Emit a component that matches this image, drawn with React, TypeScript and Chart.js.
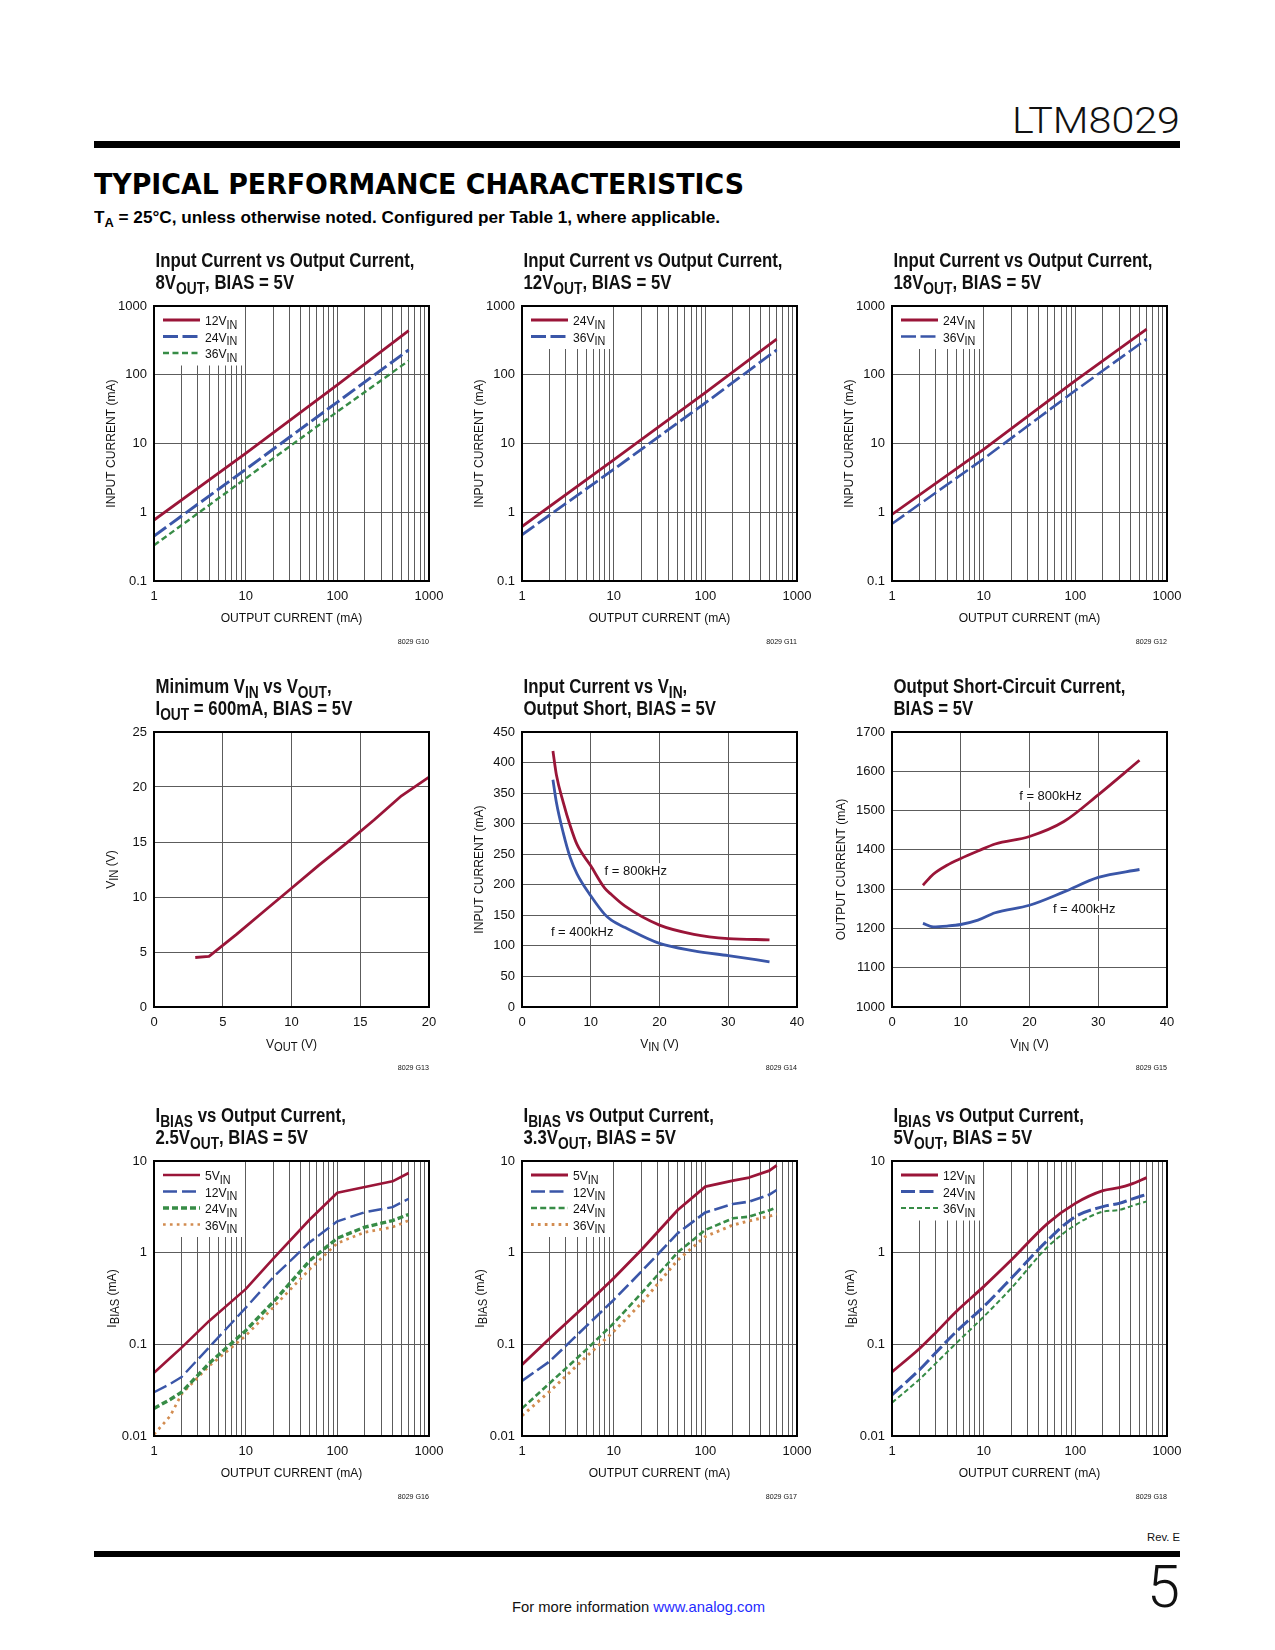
import React, { useEffect, useLayoutEffect, useRef } from "react";
import { Chart, registerables } from "chart.js";
Chart.register(...registerables);

// ---------- colours & fonts ----------
const RED = "#9a1538";
const BLUE = "#3a56a8";
const GREEN = "#378c46";
const ORANGE = "#d28c50";
const GRID = "#5c5c5c";
const FONT = "'Liberation Sans', Arial, sans-serif";

// ---------- data ----------
// G10: Input current vs output current, 8VOUT
const g10Iout = [1, 10, 100, 600];
const g10Vin12 = [0.77, 7.2, 71, 440];
const g10Vin24 = [0.45, 4.2, 40, 230];
const g10Vin36 = [0.33, 3.1, 29, 160];
// G11: 12VOUT
const g11Iout = [1, 10, 100, 600];
const g11Vin24 = [0.62, 5.8, 55, 330];
const g11Vin36 = [0.47, 4.2, 39, 230];
// G12: 18VOUT
const g12Iout = [1, 10, 100, 600];
const g12Vin24 = [0.93, 8.2, 82, 460];
const g12Vin36 = [0.68, 6.0, 59, 330];
// G13: minimum VIN vs VOUT
const g13Vout = [3, 4, 5, 6, 8, 10, 12, 14, 16, 18, 20];
const g13Vin = [4.5, 4.6, 5.6, 6.6, 8.7, 10.8, 12.9, 14.9, 17.0, 19.2, 20.9];
// G14: input current vs VIN, output short
const g14Vin = [4.5, 5, 6, 7, 8, 10, 12, 13, 15, 20, 25, 30, 36];
const g14I800 = [419, 380, 335, 297, 266, 231, 195, 184, 165, 134, 119, 112, 110];
const g14I400 = [372, 335, 285, 245, 218, 182, 152, 142, 130, 104, 92, 84, 74];
// G15: output short-circuit current
const g15Vin = [4.5, 6, 8, 10, 12.5, 15, 20, 25, 30, 36];
const g15I800 = [1310, 1338, 1361, 1378, 1397, 1415, 1434, 1472, 1540, 1628];
const g15I400 = [1213, 1204, 1206, 1210, 1221, 1240, 1259, 1293, 1330, 1350];
// G16: IBIAS, 2.5VOUT
const g16Iout = [1, 1.5, 2, 4, 10, 20, 50, 100, 200, 400, 600];
const g16Vin5 = [0.049, 0.071, 0.092, 0.18, 0.4, 0.86, 2.3, 4.5, 5.2, 6.0, 7.4];
const g16Vin12 = [0.03, 0.037, 0.044, 0.093, 0.25, 0.54, 1.3, 2.2, 2.77, 3.14, 3.87];
const g16Vin24 = [0.02, 0.025, 0.03, 0.062, 0.141, 0.29, 0.82, 1.44, 1.9, 2.24, 2.61];
const g16Vin36 = [0.0104, 0.0165, 0.0287, 0.058, 0.124, 0.253, 0.66, 1.27, 1.67, 1.9, 2.24];
// G17: IBIAS, 3.3VOUT
const g17Iout = [1, 2, 5, 10, 20, 50, 100, 200, 300, 500, 600];
const g17Vin5 = [0.06, 0.116, 0.27, 0.525, 1.07, 2.92, 5.25, 6.1, 6.6, 7.85, 8.97];
const g17Vin12 = [0.04, 0.065, 0.157, 0.305, 0.62, 1.63, 2.75, 3.4, 3.6, 4.3, 4.83];
const g17Vin24 = [0.02, 0.0376, 0.087, 0.17, 0.36, 1.01, 1.77, 2.37, 2.47, 2.9, 3.12];
const g17Vin36 = [0.0167, 0.0305, 0.073, 0.138, 0.28, 0.83, 1.5, 2.0, 2.22, 2.5, 2.64];
// G18: IBIAS, 5VOUT
const g18Iout = [1, 2, 3, 5, 10, 20, 50, 100, 200, 300, 400, 600];
const g18Vin12 = [0.05, 0.09, 0.134, 0.227, 0.426, 0.83, 2.09, 3.45, 4.75, 5.12, 5.56, 6.58];
const g18Vin24 = [0.028, 0.053, 0.081, 0.137, 0.258, 0.525, 1.37, 2.47, 3.18, 3.45, 3.8, 4.33];
const g18Vin36 = [0.0231, 0.0417, 0.062, 0.1026, 0.2, 0.41, 1.16, 2.0, 2.8, 2.92, 3.2, 3.63];

// ---------- tick labels ----------
const ioutTicks = [1, 10, 100, 1000];
const iinTicks = [0.1, 1, 10, 100, 1000];
const ibiasTicks = [0.01, 0.1, 1, 10];
const g13XTicks = [0, 5, 10, 15, 20];
const g13YTicks = [0, 5, 10, 15, 20, 25];
const vinTicks = [0, 10, 20, 30, 40];
const g14YTicks = [0, 50, 100, 150, 200, 250, 300, 350, 400, 450];
const g15YTicks = [1000, 1100, 1200, 1300, 1400, 1500, 1600, 1700];

// ---------- layout ----------
const PLOT = 275;
const COL_X = [154, 522, 892];
const ROW_Y = [306, 732, 1161];
const PAD_L = 64;
const PAD_T = 62;
const PAD_R = 26;
const PAD_B = 72;
const CW = PAD_L + PLOT + PAD_R;
const CH = PAD_T + PLOT + PAD_B;

type Seg = [string, boolean?];
interface Series {
  label: Seg[];
  x: number[];
  y: number[];
  color: string;
  dash: number[];
  width: number;
}
interface Note {
  text: string;
  x: number;
  y: number;
}
interface Spec {
  code: string;
  col: number;
  row: number;
  title1: Seg[];
  title2: Seg[];
  xLog: boolean;
  yLog: boolean;
  xTicks: number[];
  yTicks: number[];
  xTitle: Seg[];
  yTitle: Seg[];
  yTitleOff: number;
  series: Series[];
  legend: boolean;
  notes: Note[];
  smooth: boolean;
}

const VIN: Seg[] = [["V"], ["IN", true], [" (V)"]];
const IOUT_T: Seg[] = [["OUTPUT CURRENT (mA)"]];
const IIN_T: Seg[] = [["INPUT CURRENT (mA)"]];
const IBIAS_T: Seg[] = [["I"], ["BIAS", true], [" (mA)"]];
const lab = (v: string): Seg[] => [[v], ["IN", true]];

const specs: Spec[] = [
  {
    code: "8029 G10", col: 0, row: 0,
    title1: [["Input Current vs Output Current,"]],
    title2: [["8V"], ["OUT", true], [", BIAS = 5V"]],
    xLog: true, yLog: true, xTicks: ioutTicks, yTicks: iinTicks,
    xTitle: IOUT_T, yTitle: IIN_T, yTitleOff: 44,
    series: [
      { label: lab("12V"), x: g10Iout, y: g10Vin12, color: RED, dash: [], width: 2.8 },
      { label: lab("24V"), x: g10Iout, y: g10Vin24, color: BLUE, dash: [15, 4.5], width: 3 },
      { label: lab("36V"), x: g10Iout, y: g10Vin36, color: GREEN, dash: [6, 3.5], width: 2.4 },
    ],
    legend: true, notes: [], smooth: false,
  },
  {
    code: "8029 G11", col: 1, row: 0,
    title1: [["Input Current vs Output Current,"]],
    title2: [["12V"], ["OUT", true], [", BIAS = 5V"]],
    xLog: true, yLog: true, xTicks: ioutTicks, yTicks: iinTicks,
    xTitle: IOUT_T, yTitle: IIN_T, yTitleOff: 44,
    series: [
      { label: lab("24V"), x: g11Iout, y: g11Vin24, color: RED, dash: [], width: 2.8 },
      { label: lab("36V"), x: g11Iout, y: g11Vin36, color: BLUE, dash: [15, 4.5], width: 2.8 },
    ],
    legend: true, notes: [], smooth: false,
  },
  {
    code: "8029 G12", col: 2, row: 0,
    title1: [["Input Current vs Output Current,"]],
    title2: [["18V"], ["OUT", true], [", BIAS = 5V"]],
    xLog: true, yLog: true, xTicks: ioutTicks, yTicks: iinTicks,
    xTitle: IOUT_T, yTitle: IIN_T, yTitleOff: 44,
    series: [
      { label: lab("24V"), x: g12Iout, y: g12Vin24, color: RED, dash: [], width: 2.8 },
      { label: lab("36V"), x: g12Iout, y: g12Vin36, color: BLUE, dash: [15, 4.5], width: 2.6 },
    ],
    legend: true, notes: [], smooth: false,
  },
  {
    code: "8029 G13", col: 0, row: 1,
    title1: [["Minimum V"], ["IN", true], [" vs V"], ["OUT", true], [","]],
    title2: [["I"], ["OUT", true], [" = 600mA, BIAS = 5V"]],
    xLog: false, yLog: false, xTicks: g13XTicks, yTicks: g13YTicks,
    xTitle: [["V"], ["OUT", true], [" (V)"]], yTitle: VIN, yTitleOff: 44,
    series: [{ label: [], x: g13Vout, y: g13Vin, color: RED, dash: [], width: 2.8 }],
    legend: false, notes: [], smooth: false,
  },
  {
    code: "8029 G14", col: 1, row: 1,
    title1: [["Input Current vs V"], ["IN", true], [","]],
    title2: [["Output Short, BIAS = 5V"]],
    xLog: false, yLog: false, xTicks: vinTicks, yTicks: g14YTicks,
    xTitle: VIN, yTitle: IIN_T, yTitleOff: 44,
    series: [
      { label: [], x: g14Vin, y: g14I800, color: RED, dash: [], width: 2.8 },
      { label: [], x: g14Vin, y: g14I400, color: BLUE, dash: [], width: 2.8 },
    ],
    legend: false,
    notes: [
      { text: "f = 800kHz", x: 12.0, y: 224 },
      { text: "f = 400kHz", x: 4.2, y: 124 },
    ],
    smooth: true,
  },
  {
    code: "8029 G15", col: 2, row: 1,
    title1: [["Output Short-Circuit Current,"]],
    title2: [["BIAS = 5V"]],
    xLog: false, yLog: false, xTicks: vinTicks, yTicks: g15YTicks,
    xTitle: VIN, yTitle: [["OUTPUT CURRENT (mA)"]], yTitleOff: 52,
    series: [
      { label: [], x: g15Vin, y: g15I800, color: RED, dash: [], width: 2.8 },
      { label: [], x: g15Vin, y: g15I400, color: BLUE, dash: [], width: 2.8 },
    ],
    legend: false,
    notes: [
      { text: "f = 800kHz", x: 18.5, y: 1540 },
      { text: "f = 400kHz", x: 23.4, y: 1252 },
    ],
    smooth: true,
  },
  {
    code: "8029 G16", col: 0, row: 2,
    title1: [["I"], ["BIAS", true], [" vs Output Current,"]],
    title2: [["2.5V"], ["OUT", true], [", BIAS = 5V"]],
    xLog: true, yLog: true, xTicks: ioutTicks, yTicks: ibiasTicks,
    xTitle: IOUT_T, yTitle: IBIAS_T, yTitleOff: 43,
    series: [
      { label: lab("5V"), x: g16Iout, y: g16Vin5, color: RED, dash: [], width: 2.6 },
      { label: lab("12V"), x: g16Iout, y: g16Vin12, color: BLUE, dash: [14, 5], width: 2.4 },
      { label: lab("24V"), x: g16Iout, y: g16Vin24, color: GREEN, dash: [6, 3], width: 3.4 },
      { label: lab("36V"), x: g16Iout, y: g16Vin36, color: ORANGE, dash: [2.7, 4.2], width: 2.7 },
    ],
    legend: true, notes: [], smooth: false,
  },
  {
    code: "8029 G17", col: 1, row: 2,
    title1: [["I"], ["BIAS", true], [" vs Output Current,"]],
    title2: [["3.3V"], ["OUT", true], [", BIAS = 5V"]],
    xLog: true, yLog: true, xTicks: ioutTicks, yTicks: ibiasTicks,
    xTitle: IOUT_T, yTitle: IBIAS_T, yTitleOff: 43,
    series: [
      { label: lab("5V"), x: g17Iout, y: g17Vin5, color: RED, dash: [], width: 2.8 },
      { label: lab("12V"), x: g17Iout, y: g17Vin12, color: BLUE, dash: [14, 4.5], width: 2.6 },
      { label: lab("24V"), x: g17Iout, y: g17Vin24, color: GREEN, dash: [6, 3.2], width: 2.6 },
      { label: lab("36V"), x: g17Iout, y: g17Vin36, color: ORANGE, dash: [2.7, 4.2], width: 3 },
    ],
    legend: true, notes: [], smooth: false,
  },
  {
    code: "8029 G18", col: 2, row: 2,
    title1: [["I"], ["BIAS", true], [" vs Output Current,"]],
    title2: [["5V"], ["OUT", true], [", BIAS = 5V"]],
    xLog: true, yLog: true, xTicks: ioutTicks, yTicks: ibiasTicks,
    xTitle: IOUT_T, yTitle: IBIAS_T, yTitleOff: 43,
    series: [
      { label: lab("12V"), x: g18Iout, y: g18Vin12, color: RED, dash: [], width: 2.8 },
      { label: lab("24V"), x: g18Iout, y: g18Vin24, color: BLUE, dash: [14, 4.5], width: 3 },
      { label: lab("36V"), x: g18Iout, y: g18Vin36, color: GREEN, dash: [5, 3], width: 2 },
    ],
    legend: true, notes: [], smooth: true,
  },
];

// ---------- helpers ----------
function logGrid(decades: number[]): number[] {
  const out: number[] = [];
  for (let i = 0; i < decades.length - 1; i++) {
    for (let k = 1; k < 10; k++) out.push(+(decades[i] * k).toPrecision(4));
  }
  out.push(decades[decades.length - 1]);
  return out;
}

interface RichOpts {
  align: "left" | "center" | "right";
  size: number;
  subSize: number;
  subDy: number;
  bold?: boolean;
  sx?: number;
  rot?: number;
  color?: string;
}

function richWidth(ctx: CanvasRenderingContext2D, segs: Seg[], o: RichOpts) {
  const b = o.bold ? "bold " : "";
  let total = 0;
  for (const [t, sub] of segs) {
    ctx.font = `${b}${sub ? o.subSize : o.size}px ${FONT}`;
    total += ctx.measureText(t).width;
  }
  return total * (o.sx ?? 1);
}

function drawRich(ctx: CanvasRenderingContext2D, segs: Seg[], x: number, y: number, o: RichOpts) {
  ctx.save();
  ctx.translate(x, y);
  if (o.rot) ctx.rotate(o.rot);
  ctx.scale(o.sx ?? 1, 1);
  const b = o.bold ? "bold " : "";
  const mainF = `${b}${o.size}px ${FONT}`;
  const subF = `${b}${o.subSize}px ${FONT}`;
  let total = 0;
  for (const [t, sub] of segs) {
    ctx.font = sub ? subF : mainF;
    total += ctx.measureText(t).width;
  }
  let cx = o.align === "left" ? 0 : o.align === "center" ? -total / 2 : -total;
  ctx.fillStyle = o.color ?? "#111";
  ctx.textAlign = "left";
  ctx.textBaseline = "alphabetic";
  for (const [t, sub] of segs) {
    ctx.font = sub ? subF : mainF;
    ctx.fillText(t, cx, sub ? o.subDy : 0);
    cx += ctx.measureText(t).width;
  }
  ctx.restore();
}

const NOTE_OPTS: RichOpts = { align: "left", size: 13, subSize: 11, subDy: 3 };

function decorPlugin(spec: Spec) {
  return {
    id: "decor",
    beforeDatasetsDraw(chart: any) {
      const ctx: CanvasRenderingContext2D = chart.ctx;
      const a = chart.chartArea;
      // white boxes behind the curve labels (hide grid lines)
      const xs = chart.scales.x;
      const ys = chart.scales.y;
      ctx.save();
      ctx.fillStyle = "#fff";
      for (const n of spec.notes) {
        const px = xs.getPixelForValue(n.x);
        const py = ys.getPixelForValue(n.y);
        const w = richWidth(ctx, [[n.text]], NOTE_OPTS);
        ctx.fillRect(px - 2, py - 7, w + 4, 14);
      }
      ctx.restore();
      if (!spec.legend) return;
      const n = spec.series.length;
      ctx.save();
      ctx.fillStyle = "#fff";
      ctx.fillRect(a.left, a.top, 89, n * 16.5 + 10);
      spec.series.forEach((s, i) => {
        const y = a.top + 14 + i * 16.5;
        ctx.beginPath();
        ctx.strokeStyle = s.color;
        ctx.lineWidth = s.width;
        ctx.lineCap = "butt";
        ctx.setLineDash(s.dash);
        ctx.moveTo(a.left + 9, y);
        ctx.lineTo(a.left + 46, y);
        ctx.stroke();
        ctx.setLineDash([]);
        drawRich(ctx, s.label, a.left + 51, y + 5, {
          align: "left", size: 13.5, subSize: 12, subDy: 3.5, sx: 0.9,
        });
      });
      ctx.restore();
    },
    afterDraw(chart: any) {
      const ctx: CanvasRenderingContext2D = chart.ctx;
      const a = chart.chartArea;
      // frame
      ctx.save();
      ctx.strokeStyle = "#000";
      ctx.lineWidth = 2;
      ctx.setLineDash([]);
      ctx.strokeRect(a.left, a.top, a.right - a.left, a.bottom - a.top);
      ctx.restore();
      // titles
      const tOpts: RichOpts = { align: "left", size: 19.5, subSize: 16, subDy: 4.5, bold: true, sx: 0.86 };
      drawRich(ctx, spec.title1, a.left + 1.5, a.top - 39, tOpts);
      drawRich(ctx, spec.title2, a.left + 1.5, a.top - 17, tOpts);
      // axis titles
      const cxp = (a.left + a.right) / 2;
      const cyp = (a.top + a.bottom) / 2;
      drawRich(ctx, spec.xTitle, cxp, a.bottom + 40.5, {
        align: "center", size: 13, subSize: 12, subDy: 3.5, sx: 0.93,
      });
      drawRich(ctx, spec.yTitle, a.left - spec.yTitleOff + 4.5, cyp, {
        align: "center", size: 13, subSize: 12, subDy: 3.5, sx: 0.93, rot: -Math.PI / 2,
      });
      // notes
      const xs = chart.scales.x;
      const ys = chart.scales.y;
      for (const n of spec.notes) {
        drawRich(ctx, [[n.text]], xs.getPixelForValue(n.x), ys.getPixelForValue(n.y) + 4.7, NOTE_OPTS);
      }
      // figure code
      drawRich(ctx, [[spec.code]], a.right, a.bottom + 63, {
        align: "right", size: 7.5, subSize: 7, subDy: 0, sx: 0.95,
      });
    },
  };
}

function axisOpts(log: boolean, ticks: number[], horizontal: boolean, isX: boolean) {
  const grid = log && isX ? logGrid(ticks) : ticks;
  return {
    type: log ? "logarithmic" : "linear",
    position: horizontal ? "bottom" : "left",
    min: ticks[0],
    max: ticks[ticks.length - 1],
    afterBuildTicks: (s: any) => {
      s.ticks = grid.map((v) => ({ value: v }));
    },
    afterFit: (s: any) => {
      if (horizontal) {
        s.height = PAD_B - 2;
        s.paddingLeft = 0;
        s.paddingRight = 0;
      } else {
        s.width = PAD_L;
        s.paddingTop = 0;
        s.paddingBottom = 0;
      }
    },
    ticks: {
      autoSkip: false,
      maxRotation: 0,
      minRotation: 0,
      padding: horizontal ? 8 : 7,
      color: "#111",
      font: { family: FONT, size: 13 },
      callback: (v: number) => (ticks.includes(v) ? String(v) : ""),
    },
    grid: { color: GRID, lineWidth: 1, drawTicks: false },
    border: { display: false },
    title: { display: false },
  };
}

function buildConfig(spec: Spec): any {
  return {
    type: "line",
    data: {
      datasets: spec.series.map((s) => ({
        data: s.x.map((x, i) => ({ x, y: s.y[i] })),
        borderColor: s.color,
        borderWidth: s.width,
        borderDash: s.dash,
        borderCapStyle: "butt",
        borderJoinStyle: "round",
        pointRadius: 0,
        fill: false,
        tension: 0,
        cubicInterpolationMode: spec.smooth ? "monotone" : "default",
      })),
    },
    options: {
      animation: false,
      responsive: false,
      devicePixelRatio: 1,
      events: [],
      layout: { padding: { top: PAD_T, right: PAD_R, bottom: 2, left: 0 } },
      plugins: {
        legend: { display: false },
        tooltip: { enabled: false },
        title: { display: false },
      },
      scales: {
        x: axisOpts(spec.xLog, spec.xTicks, true, true),
        y: axisOpts(spec.yLog, spec.yTicks, false, false),
      },
    },
    plugins: [decorPlugin(spec)],
  };
}

function PerfChart({ spec }: { spec: Spec }) {
  const ref = useRef<HTMLCanvasElement>(null);
  useEffect(() => {
    const cv = ref.current;
    if (!cv) return;
    const chart = new Chart(cv, buildConfig(spec));
    return () => chart.destroy();
  }, [spec]);
  return (
    <canvas
      ref={ref}
      width={CW}
      height={CH}
      style={{
        position: "absolute",
        left: COL_X[spec.col] - PAD_L,
        top: ROW_Y[spec.row] - PAD_T,
        width: CW,
        height: CH,
      }}
    />
  );
}

// Fits a line of HTML text to a target width by horizontal scaling.
function Fit(props: {
  x?: number;
  right?: number;
  baseline: number;
  size: number;
  width: number;
  family: string;
  weight?: number | string;
  color?: string;
  children: React.ReactNode;
}) {
  const ref = useRef<HTMLDivElement>(null);
  useLayoutEffect(() => {
    const el = ref.current;
    if (!el) return;
    el.style.transform = "none";
    const w = el.getBoundingClientRect().width;
    if (w > 0) el.style.transform = `scaleX(${props.width / w})`;
  });
  const left = props.x !== undefined ? props.x : (props.right as number) - props.width;
  return (
    <div
      ref={ref}
      style={{
        position: "absolute",
        left,
        top: props.baseline - 0.845 * props.size,
        fontSize: props.size,
        lineHeight: `${props.size}px`,
        fontFamily: props.family,
        fontWeight: props.weight ?? "normal",
        color: props.color ?? "#111",
        whiteSpace: "nowrap",
        transformOrigin: "0 0",
      }}
    >
      {props.children}
    </div>
  );
}

const subStyle: React.CSSProperties = { fontSize: "0.75em", position: "relative", top: "0.3em", lineHeight: 0 };

export default function App() {
  return (
    <div style={{ position: "absolute", left: 0, top: 0, width: 1275, height: 1650, background: "#fff", overflow: "hidden" }}>
      <Fit right={1180} baseline={133.5} size={37} width={168} family="Roboto, 'Liberation Sans', sans-serif" weight={300}>
        LTM8029
      </Fit>
      <div style={{ position: "absolute", left: 94, top: 141, width: 1086, height: 6.5, background: "#000" }} />
      <Fit x={94} baseline={195} size={28} width={650} family="'DejaVu Sans', sans-serif" weight="bold" color="#000">
        TYPICAL PERFORMANCE CHARACTERISTICS
      </Fit>
      <Fit x={94} baseline={224} size={16} width={626} family={FONT} weight="bold" color="#000">
        T<span style={subStyle}>A</span> = 25°C, unless otherwise noted. Configured per Table 1, where applicable.
      </Fit>

      {specs.map((s) => (
        <PerfChart key={s.code} spec={s} />
      ))}

      <Fit right={1180} baseline={1541} size={11} width={33} family={FONT}>
        Rev. E
      </Fit>
      <div style={{ position: "absolute", left: 94, top: 1550.5, width: 1086, height: 6.5, background: "#000" }} />
      <Fit right={1180} baseline={1606.7} size={59} width={33} family="Roboto, 'Liberation Sans', sans-serif" weight={300}>
        5
      </Fit>
      <Fit x={512} baseline={1612} size={15} width={253} family={FONT}>
        For more information <span style={{ color: "#1f2bff" }}>www.analog.com</span>
      </Fit>
    </div>
  );
}
